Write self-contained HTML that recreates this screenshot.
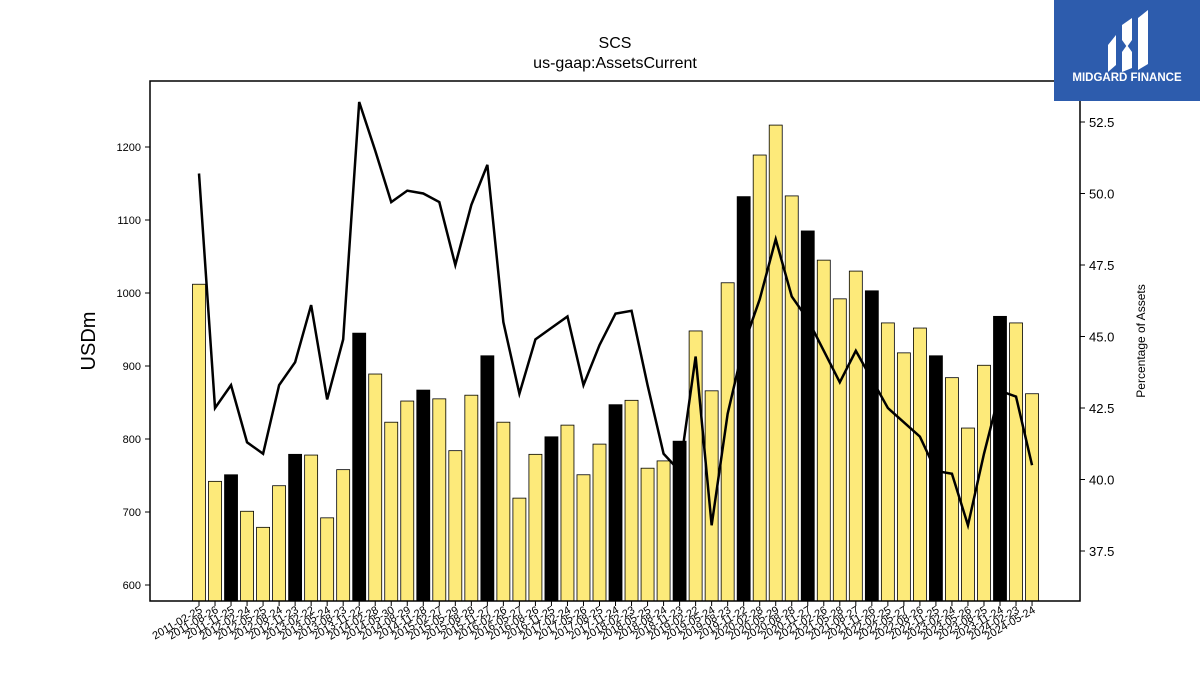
<!DOCTYPE html>
<html><head><meta charset="utf-8"><style>
body{margin:0;background:#fff;font-family:"Liberation Sans","DejaVu Sans",sans-serif}
svg{display:block}
</style></head><body>
<svg id="chart" width="1200" height="675">
<text x="615" y="48" text-anchor="middle" font-size="16">SCS</text>
<text x="615" y="68" text-anchor="middle" font-size="16">us-gaap:AssetsCurrent</text>
<g id="bars"></g>
<g id="line"></g>
<rect x="150" y="81" width="930" height="520" fill="none" stroke="#000" stroke-width="1.5"/>
<g id="axes"></g>
<text transform="translate(95,341) rotate(-90)" text-anchor="middle" font-size="20">USDm</text>
<text transform="translate(1145,341) rotate(-90)" text-anchor="middle" font-size="12">Percentage of Assets</text>
<g>
<rect x="1054" y="0" width="146" height="101" fill="#2d5cad"/>
<path d="M1108 45 L1116 35 L1116 65 L1108 72 Z" fill="#fff"/>
<path d="M1122 25 L1132 18 L1132 40 L1127 47 L1122 40 Z" fill="#fff"/>
<path d="M1122 52 L1127 45 L1132 52 L1132 68 L1122 72 Z" fill="#fff"/>
<path d="M1138 18 L1148 10 L1148 64 L1138 70 Z" fill="#fff"/>
<text x="1127" y="81" text-anchor="middle" font-size="11.5" font-weight="bold" fill="#fff">MIDGARD FINANCE</text>
</g>
</svg>
<script>
const dates=["2011-02-25","2011-08-26","2011-11-25","2012-02-24","2012-05-25","2012-08-24","2012-11-23","2013-02-22","2013-05-24","2013-08-23","2013-11-22","2014-02-28","2014-05-30","2014-08-29","2014-11-28","2015-02-27","2015-05-29","2015-08-28","2015-11-27","2016-02-26","2016-05-27","2016-08-26","2016-11-25","2017-02-24","2017-05-26","2017-08-25","2017-11-24","2018-02-23","2018-05-25","2018-08-24","2018-11-23","2019-02-22","2019-05-24","2019-08-23","2019-11-22","2020-02-28","2020-05-29","2020-08-28","2020-11-27","2021-02-26","2021-05-28","2021-08-27","2021-11-26","2022-02-25","2022-05-27","2022-08-26","2022-11-25","2023-02-24","2023-05-26","2023-08-25","2023-11-24","2024-02-23","2024-05-24"];
const assets=[1012,742,751,701,679,736,779,778,692,758,945,889,823,852,867,855,784,860,914,823,719,779,803,819,751,793,847,853,760,770,797,948,866,1014,1132,1189,1230,1133,1085,1045,992,1030,1003,959,918,952,914,884,815,901,968,959,862];
const pct=[50.7,42.5,43.3,41.3,40.9,43.3,44.1,46.1,42.8,44.9,53.2,51.5,49.7,50.1,50.0,49.7,47.5,49.6,51.0,45.5,43.0,44.9,45.3,45.7,43.3,44.7,45.8,45.9,43.3,40.9,40.3,44.3,38.4,42.3,44.7,46.3,48.4,46.4,45.6,44.5,43.4,44.5,43.5,42.5,42.0,41.5,40.3,40.2,38.4,40.9,43.1,42.9,40.5];
const yTicks=[600,700,800,900,1000,1100,1200];
const y2Ticks=[37.5,40.0,42.5,45.0,47.5,50.0,52.5];
const NS="http://www.w3.org/2000/svg";
const xS=i=>199+i*16.02;
const yS=v=>585-(v-600)*0.73;
const y2S=v=>551-(v-37.5)*28.6;
const base=601;
function mk(t,a,p){const e=document.createElementNS(NS,t);for(const k in a)e.setAttribute(k,a[k]);p.appendChild(e);return e;}
const bg=document.getElementById('bars'),lg=document.getElementById('line'),ax=document.getElementById('axes');
assets.forEach((v,i)=>{
 const r=mk('rect',{x:xS(i)-6.5,y:yS(v),width:13,height:base-yS(v),fill:i%4===2?'#000':'#fdea7a',stroke:'#000','stroke-width':0.8},bg);
 
 
});
const pl=mk('polyline',{points:pct.map((v,i)=>xS(i)+','+y2S(v)).join(' '),fill:'none',stroke:'#000','stroke-width':2.5},lg);


yTicks.forEach(v=>{
 const y=yS(v);
 mk('line',{x1:145,x2:150,y1:y,y2:y,stroke:'#000'},ax);
 const t=mk('text',{x:141,y:y+4,'text-anchor':'end','font-size':11},ax);t.textContent=v;
 
 
});
y2Ticks.forEach(v=>{
 const y=y2S(v);
 mk('line',{x1:1080,x2:1085,y1:y,y2:y,stroke:'#000'},ax);
 const t=mk('text',{x:1089,y:y+5,'font-size':13},ax);t.textContent=v.toFixed(1);
 
 
});
dates.forEach((d,i)=>{
 const x=xS(i);
 mk('line',{x1:x,x2:x,y1:601,y2:606,stroke:'#000'},ax);
 const t=mk('text',{transform:`translate(${x+4},${612}) rotate(-30)`,'text-anchor':'end','font-size':11},ax);t.textContent=d;
 
 
});
</script>
</body></html>
